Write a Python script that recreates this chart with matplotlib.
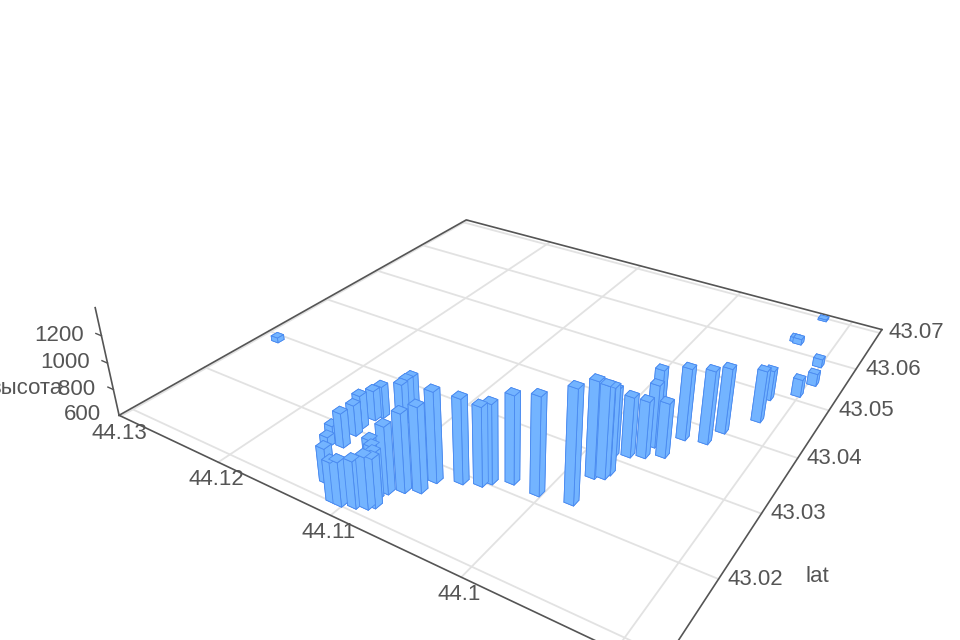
import numpy as np
import matplotlib
matplotlib.use('Agg')
import matplotlib.pyplot as plt
from mpl_toolkits.mplot3d import proj3d

plt.rcParams['font.family'] = ['Liberation Sans', 'DejaVu Sans']

# track points
lats = [43.0179, 43.0191, 43.0198, 43.0206, 43.0217, 43.0215, 43.0221, 43.0266, 43.0271, 43.0279,
        43.0306, 43.0315, 43.0322, 43.0333, 43.0343, 43.0389, 43.0371, 43.0377, 43.0404, 43.0443,
        43.0489, 43.0513, 43.0544, 43.0586, 43.0624, 43.0627, 43.0697, 43.0290, 43.0141, 43.0151,
        43.0159, 43.0237, 43.0244, 43.0250, 43.0236, 43.0228, 43.0209, 43.0196, 43.0174, 43.0174,
        43.0166, 43.0122, 43.0104, 43.0104, 43.0109, 43.0114, 43.0119, 43.0138, 43.0132, 43.0128]
lons = [44.1067, 44.1052, 44.1040, 44.1036, 44.1024, 44.1004, 44.0981, 44.0983, 44.0977, 44.0976,
        44.0983, 44.0974, 44.0965, 44.0954, 44.0965, 44.0976, 44.0951, 44.0936, 44.0931, 44.0915,
        44.0919, 44.0902, 44.0897, 44.0902, 44.0927, 44.0930, 44.0922, 44.1285, 44.1086, 44.1078,
        44.1069, 44.1126, 44.1125, 44.1124, 44.1144, 44.1147, 44.1148, 44.1146, 44.1144, 44.1153,
        44.1153, 44.1126, 44.1109, 44.1103, 44.1094, 44.1087, 44.1084, 44.1096, 44.1091, 44.1088]
alts = [1245, 1205, 1165, 1170, 1230, 1295, 1400, 1290, 1260, 1225,
        1095, 1040, 1015, 1000, 1060, 985, 1130, 1140, 1085, 990,
        830, 735, 695, 665, 645, 635, 600, 640, 1080, 1160,
        1205, 910, 925, 930, 840, 825, 850, 830, 855, 730,
        675, 855, 890, 915, 935, 970, 950, 960, 955, 940]

lon_ticks = [44.13, 44.12, 44.11, 44.1, 44.09]
lon_labels = ['44.13', '44.12', '44.11', '44.1']
lat_ticks = [43.07, 43.06, 43.05, 43.04, 43.03, 43.02, 43.01]
lat_labels = ['43.07', '43.06', '43.05', '43.04', '43.03', '43.02']
alt_ticks = [600, 800, 1000, 1200]

lat_min, lat_max = 43.0085, 43.0710
lon_min, lon_max = 44.0875, 44.1302
alt_min, alt_max = 600, 1400

grid_col = '#e2e2e2'
axis_col = '#555555'
text_col = '#555555'

size = 1040.76
fig = plt.figure(figsize=(9.6, 6.4), dpi=100)
ax = fig.add_axes([-15.34 / 960, 1 - (size - 191.37) / 640, size / 960, size / 640], projection='3d')
ax.set_xlim(43.0, 43.08)
ax.set_ylim(44.08, 44.14)
ax.set_zlim(alt_min, alt_max)
ax.view_init(28.3453, 212.3958, -0.4395)
ax.set_proj_type('persp', focal_length=0.1763)
ax.set_box_aspect((0.9208, 1, 0.1460))
ax.set_axis_off()
ax.computed_zorder = False

# floor grid
for lo in lon_ticks:
    ax.plot([lat_min, lat_max], [lo, lo], [alt_min, alt_min], color=grid_col, lw=1.3, zorder=1)
for la in lat_ticks:
    ax.plot([la, la], [lon_min, lon_max], [alt_min, alt_min], color=grid_col, lw=1.3, zorder=1)

# axis lines
ax.plot([lat_min, lat_max, lat_max], [lon_max, lon_max, lon_min], [alt_min] * 3, color=axis_col, lw=1.2, zorder=2)
ax.plot([lat_min, lat_min, lat_max], [lon_max, lon_min, lon_min], [alt_min] * 3, color=axis_col, lw=1.2, zorder=2)
ax.plot([lat_min, lat_min], [lon_max, lon_max], [alt_min, alt_max], color=axis_col, lw=1.2, zorder=2)
for z in alt_ticks[1:]:
    ax.plot([lat_min, lat_min], [lon_max, lon_max + 0.0006], [z, z], color=axis_col, lw=1, zorder=2)

# bars
la = np.array(lats)
lo = np.array(lons)
h = np.array(alts, dtype=float) - alt_min
dla, dlo = 0.001, 0.0007
h[h < 15] = 15
ax.bar3d(la - dla / 2, lo - dlo / 2, np.full(la.size, alt_min), dla, dlo, h,
         color='#73b4ff', edgecolor='#4a8af0', linewidth=0.6, shade=False, zorder=3)

# tick labels
M = ax.get_proj()


def label(txt, x, y, z, dx, dy, ha='center'):
    px, py, _ = proj3d.proj_transform(x, y, z, M)
    ax.annotate(txt, (px, py), xytext=(dx, dy), textcoords='offset pixels', ha=ha, va='center',
                fontsize=16, color=text_col, annotation_clip=False)


for t, s in zip(lon_ticks, lon_labels):
    label(s, lat_min, t, alt_min, -2, -17.5)
for t, s in zip(lat_ticks, lat_labels):
    label(s, t, lon_min, alt_min, 37, 0)
for t in alt_ticks:
    label(str(t), lat_min, lon_max, t, -18, 0.5, ha='right')

fig.text(817 / 960, 1 - 577 / 640, 'lat', fontsize=16, color=text_col, ha='center', va='center')
fig.text(63 / 960, 1 - 389 / 640, 'высота', fontsize=16, color=text_col, ha='right', va='center')

fig.savefig('out.png', dpi=100)
